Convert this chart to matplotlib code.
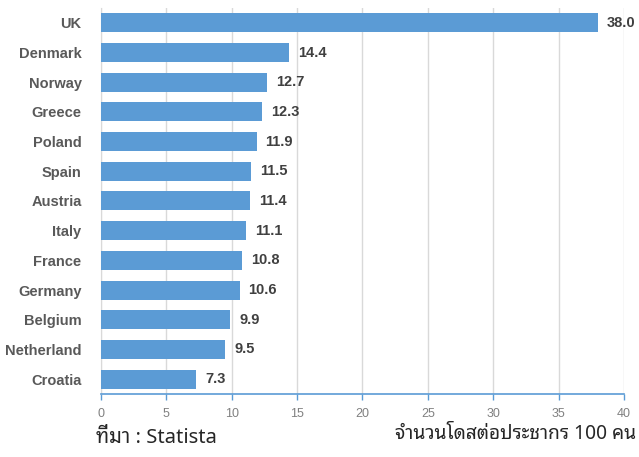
import matplotlib
matplotlib.use('Agg')
import matplotlib.pyplot as plt
import numpy as np

countries = ['UK', 'Denmark', 'Norway', 'Greece', 'Poland', 'Spain', 'Austria',
             'Italy', 'France', 'Germany', 'Belgium', 'Netherland', 'Croatia']
doses = [38.0, 14.4, 12.7, 12.3, 11.9, 11.5, 11.4, 11.1, 10.8, 10.6, 9.9, 9.5, 7.3]
xticks = [0, 5, 10, 15, 20, 25, 30, 35, 40]

bar_color = '#5B9BD5'
thai_font = ['Noto Sans Thai Looped', 'DejaVu Sans']

fig = plt.figure(figsize=(6.39, 4.57), dpi=100)
ax = fig.add_axes([0.158, 0.138, 0.8185, 0.8445])

# first country on top
pos = np.arange(len(countries))[::-1]
ax.barh(pos, doses, height=0.64, color=bar_color, zorder=3)

for p, v in zip(pos, doses):
    ax.annotate('%.1f' % v, (v, p), xytext=(6.5, 0), textcoords='offset points',
                va='center', ha='left', fontsize=10.5, fontweight='bold',
                color='#404040', family='Liberation Sans')

ax.set_xlim(0, 40)
ax.set_ylim(-0.5, len(countries) - 0.5)
ax.set_xticks(xticks)
ax.set_yticks(pos)
ax.set_yticklabels(countries, fontsize=10.5, fontweight='bold', color='#595959',
                   family='Liberation Sans')
ax.tick_params(axis='y', length=0, pad=14)
ax.tick_params(axis='x', length=4, width=1, color=bar_color, labelsize=9,
               labelcolor='#808080', pad=6)
for lab in ax.get_xticklabels():
    lab.set_family('Liberation Sans')

ax.grid(axis='x', color='#d9d9d9', lw=1, zorder=0)
for s in ['top', 'right']:
    ax.spines[s].set_visible(False)
ax.spines['left'].set_color('#d9d9d9')
ax.spines['bottom'].set_color(bar_color)
ax.spines['bottom'].set_linewidth(1.2)

fig.text(0.996, 0.040, 'จำนวนโดสต่อประชากร 100 คน', ha='right', va='baseline',
         fontsize=13.8, color='#262626', family=thai_font)
fig.text(0.150, 0.030, 'ที่มา : Statista', ha='left', va='baseline',
         fontsize=14.5, color='#262626', family=thai_font)

fig.savefig('out.png', dpi=100)
